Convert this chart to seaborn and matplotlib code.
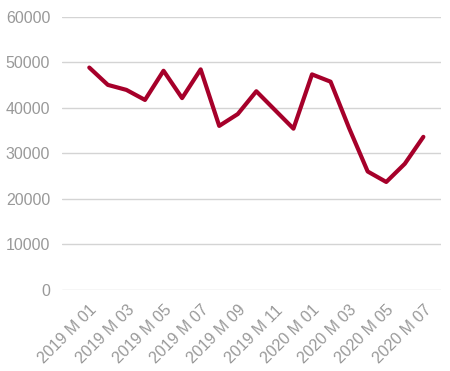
import matplotlib
matplotlib.use("Agg")
import matplotlib.pyplot as plt
import pandas as pd
import seaborn as sns

# Datos mensuales
months = [
    "2019 M 01", "2019 M 02", "2019 M 03", "2019 M 04", "2019 M 05",
    "2019 M 06", "2019 M 07", "2019 M 08", "2019 M 09", "2019 M 10",
    "2019 M 11", "2019 M 12", "2020 M 01", "2020 M 02", "2020 M 03",
    "2020 M 04", "2020 M 05", "2020 M 06", "2020 M 07",
]
values = [
    48800, 45000, 43900, 41700, 48100, 42100, 48400, 36000, 38600, 43600,
    39500, 35400, 47300, 45700, 35500, 26000, 23700, 27700, 33600,
]
y_ticks = [0, 10000, 20000, 30000, 40000, 50000, 60000]

df = pd.DataFrame({"idx": range(len(months)), "month": months, "value": values})

sns.set_style("white")
plt.rcParams["font.family"] = ["Liberation Sans", "DejaVu Sans"]

fig = plt.figure(figsize=(4.5, 3.71), dpi=100)
ax = fig.add_axes([0.1378, 0.2183, 0.8422, 0.7372])

sns.lineplot(data=df, x="idx", y="value", color="#A6002A", linewidth=3, ax=ax)

ax.set_ylim(0, 60000)
ax.set_xlim(-1.47, 18.95)
ax.set_yticks(y_ticks)
ax.set_yticklabels([str(v) for v in y_ticks])
ax.set_xticks(df["idx"][::2])
ax.set_xticklabels(df["month"][::2], rotation=45, ha="right", rotation_mode="anchor")

ax.grid(axis="y", color="#d4d4d4", linewidth=1.0)
ax.set_axisbelow(True)
for s in ax.spines.values():
    s.set_visible(False)
ax.tick_params(axis="y", length=0, pad=8.5, labelsize=11.5, labelcolor="#999999")
ax.tick_params(axis="x", length=0, pad=9, labelsize=11.5, labelcolor="#999999")
ax.set_xlabel("")
ax.set_ylabel("")

fig.savefig("out.png", dpi=100)
